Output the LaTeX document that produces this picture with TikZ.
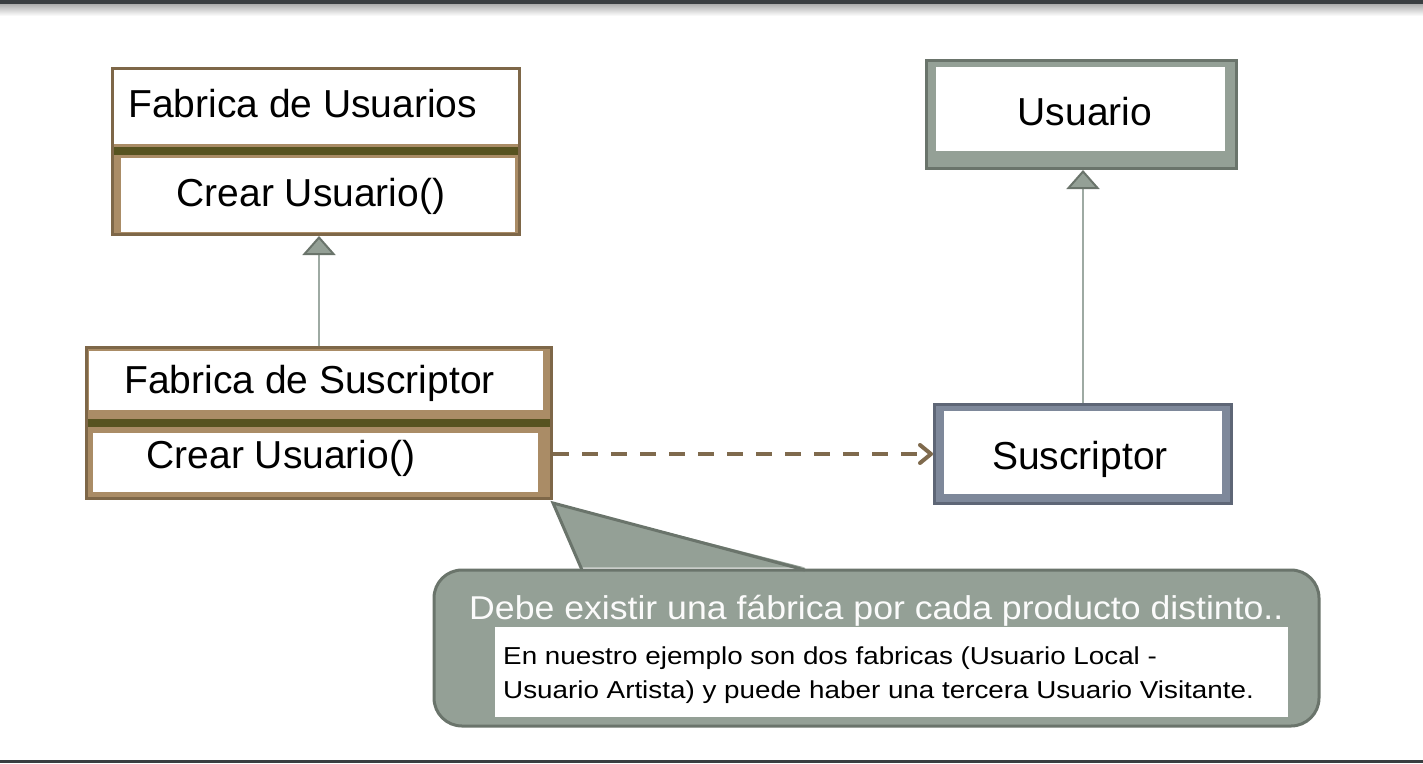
\documentclass[tikz,border=0pt]{standalone}
\usepackage{fontspec}
\setmainfont{Liberation Sans}
\newfontfamily\headfont[FakeStretch=1.08]{Liberation Sans}
\newfontfamily\bodyfont[FakeStretch=1.135]{Liberation Sans}
\usetikzlibrary{arrows.meta}
\definecolor{brownB}{HTML}{7E6748}
\definecolor{tanF}{HTML}{AA8C66}
\definecolor{oliveB}{HTML}{575320}
\definecolor{sageF}{HTML}{94A096}
\definecolor{sageD}{HTML}{6A746B}
\definecolor{slateF}{HTML}{7E889A}
\definecolor{slateD}{HTML}{5E6676}
\definecolor{lineG}{HTML}{9EAAA3}
\definecolor{barD}{HTML}{3A3E41}
\definecolor{dashB}{HTML}{7F6A4D}
\begin{document}
\begin{tikzpicture}[x=1pt,y=-1pt,
  rect/.style={rectangle, inner sep=0pt, outer sep=0pt},
  factory/.style={rect, fill=tanF, draw=brownB, line width=3pt, outer sep=1.5pt},
  classbox/.style={rect, fill=sageF, draw=sageD, line width=3pt, outer sep=1.5pt},
  prodbox/.style={rect, fill=slateF, draw=slateD, line width=3pt, outer sep=1.5pt},
  whitebox/.style={rect, fill=white},
  olivebar/.style={rect, fill=oliveB},
  big/.style={inner sep=0pt, font=\fontsize{39}{47}\selectfont, text=black},
  headtxt/.style={inner sep=0pt, font=\headfont\fontsize{33}{40}\selectfont, text=white!96!sageF},
  bodytxt/.style={inner sep=0pt, font=\bodyfont\fontsize{24.5}{34}\selectfont, text=black},
  gen/.style={draw=lineG, line width=1.3pt,
    -{Triangle[length=19pt,width=33pt,fill=sageF,color=sageD,line width=2pt]}},
  dep/.style={draw=dashB, line width=4pt, dash pattern=on 16pt off 13pt,
    -{Straight Barb[length=11pt,width=18pt,round]}},
]
\useasboundingbox (0,0) rectangle (1423,763);
\fill[white] (0,0) rectangle (1423,763);
% top and bottom bars
\shade[top color=black!32, bottom color=white] (0,4) rectangle (1423,16);
\fill[barD] (0,0) rectangle (1423,4);
\fill[barD] (0,759.5) rectangle (1423,763);

% Fabrica de Usuarios
\node[factory, minimum width=407pt, minimum height=166pt] (b1) at (316,151.5) {};
\node[whitebox, minimum width=404pt, minimum height=74pt] (b1top) at (316,107) {};
\node[olivebar, minimum width=404pt, minimum height=8pt] (b1bar) at (316,151) {};
\node[whitebox, minimum width=394pt, minimum height=74pt] (b1bot) at (318,195) {};
\node[big, anchor=base west] (t1) at (128,117) {Fabrica de Usuarios};
\node[big, anchor=base] (t2) at (311,206) {Crear Usuario()};

% Fabrica de Suscriptor
\node[factory, minimum width=465pt, minimum height=151pt] (b2) at (319,423) {};
\node[whitebox, minimum width=454pt, minimum height=59pt] (b2top) at (316,380.5) {};
\node[olivebar, minimum width=462pt, minimum height=8pt] (b2bar) at (319,423) {};
\node[whitebox, minimum width=445pt, minimum height=59pt] (b2bot) at (315.5,462.5) {};
\node[big, anchor=base west] (t3) at (124,393) {Fabrica de Suscriptor};
\node[big, anchor=base] (t4) at (281,468) {Crear Usuario()};

% Usuario
\node[classbox, minimum width=310pt, minimum height=108pt] (usr) at (1081.5,114.5) {};
\node[whitebox, minimum width=289pt, minimum height=84pt] (usrin) at (1080.5,109) {};
\node[big, anchor=base] (t5) at (1085,125) {Usuario};

% Suscriptor
\node[prodbox, minimum width=297pt, minimum height=99pt] (sus) at (1083,454) {};
\node[whitebox, minimum width=278pt, minimum height=83pt] (susin) at (1083,452.5) {};
\node[big, anchor=base] (t6) at (1080,469) {Suscriptor};

% connectors
\draw[gen] (b2.north) -- (b2.north |- b1.south);
\draw[gen] (sus.north) -- (sus.north |- usr.south);
\draw[dep] (sus.west -| b2.east) -- (sus.west);

% callout
\node[rect, rounded corners=28pt, fill=sageF, draw=sageD, line width=3pt,
      minimum width=885pt, minimum height=156pt] (call) at (876.5,648) {};
\coordinate (tip) at (553,503);
\coordinate (pl) at (582,570);
\coordinate (pr) at (805,570);
\fill[sageF] ([yshift=2.5pt]pl) -- (tip) -- ([yshift=2.5pt]pr) -- cycle;
\draw[sageD, line width=3pt, line join=miter] (pl) -- (tip) -- (pr);
\node[whitebox, minimum width=793pt, minimum height=90pt] (callin) at (891.5,672) {};
\node[headtxt, anchor=base west] (h1) at (469,619) {Debe existir una fábrica por cada producto distinto..};
\node[bodytxt, anchor=base west] (l1) at (503,664) {En nuestro ejemplo son dos fabricas (Usuario Local -};
\node[bodytxt, anchor=base west] (l2) at (503,698) {Usuario Artista) y puede haber una tercera Usuario Visitante.};
\end{tikzpicture}
\end{document}
